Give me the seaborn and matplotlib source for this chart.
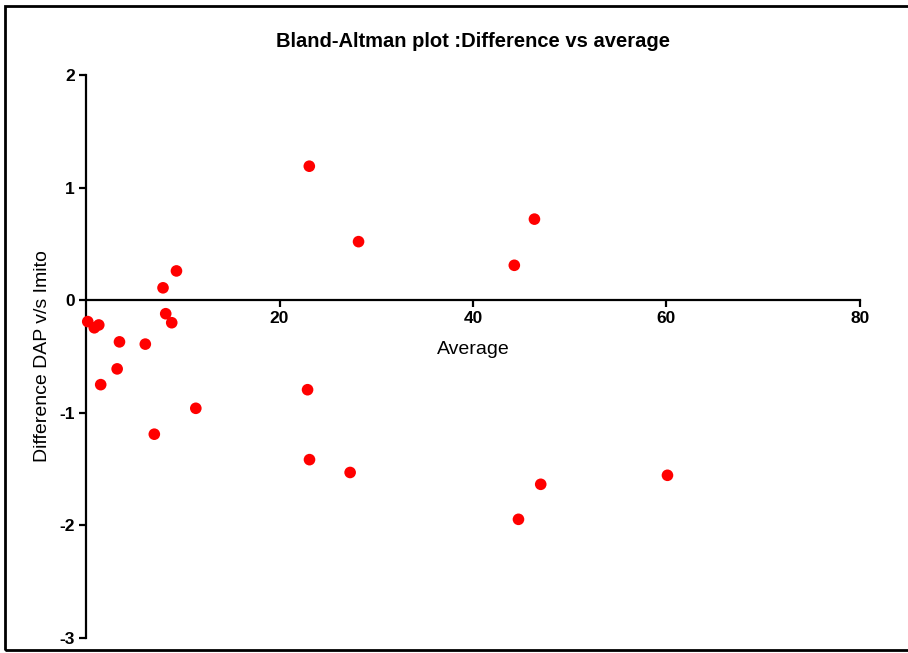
import numpy as np
import pandas as pd
import seaborn as sns
import matplotlib.pyplot as plt
from matplotlib.patches import Rectangle

# values
average = [0.18, 0.86, 1.32, 1.52, 3.46, 3.22, 6.13, 7.96, 8.24, 8.86, 9.35, 7.06, 11.35,
           23.08, 22.9, 23.1, 28.17, 27.3, 44.27, 46.35, 44.7, 47.0, 60.1]
difference = [-0.19, -0.245, -0.22, -0.75, -0.37, -0.61, -0.39, 0.11, -0.12, -0.20, 0.26, -1.19, -0.96,
              1.19, -0.795, -1.416, 0.52, -1.53, 0.31, 0.72, -1.946, -1.635, -1.555]
x_ticks = [20, 40, 60, 80]
y_ticks = [-3, -2, -1, 0, 1, 2]

df = pd.DataFrame({"Average": average, "Difference": difference})

sns.set_style("white")
plt.rcParams['font.family'] = ['Liberation Sans', 'DejaVu Sans']
plt.rcParams['axes.unicode_minus'] = False
plt.rcParams['text.color'] = 'black'
plt.rcParams['axes.labelcolor'] = 'black'
plt.rcParams['xtick.color'] = 'black'
plt.rcParams['ytick.color'] = 'black'

fig = plt.figure(figsize=(9.08, 6.53), dpi=100)
ax = fig.add_axes([86/908, 1-638/653, (860-86)/908, (638-75)/653])

sns.scatterplot(data=df, x="Average", y="Difference", color="#ff0000", s=70,
                edgecolor="none", ax=ax, zorder=3, clip_on=False)

ax.set_xlim(0, 80)
ax.set_ylim(-3, 2)
ax.spines['right'].set_visible(False)
ax.spines['top'].set_visible(False)
ax.spines['bottom'].set_position(('data', 0))
for s in ['left', 'bottom']:
    ax.spines[s].set_linewidth(1.6)
    ax.spines[s].set_color('black')

ax.set_xticks(x_ticks)
ax.set_yticks(y_ticks)
ax.tick_params(axis='both', direction='out', length=5, width=1.6, color='black',
               labelsize=12.5, bottom=True, left=True, pad=3)
for lab in ax.get_xticklabels() + ax.get_yticklabels():
    lab.set_fontweight('bold')

ax.set_xlabel("Average", fontsize=14)
ax.xaxis.set_label_coords(0.5, 0.527)
ax.set_ylabel("Difference DAP v/s Imito", fontsize=14, labelpad=6)
ax.set_title("Bland-Altman plot :Difference vs average", fontsize=14.5, fontweight='bold', pad=20)

fig.patches.append(Rectangle((5/908, 3/653), 910/908, 644/653, transform=fig.transFigure,
                             fill=False, edgecolor='black', linewidth=2, clip_on=False))

fig.savefig("out.png", dpi=100)
